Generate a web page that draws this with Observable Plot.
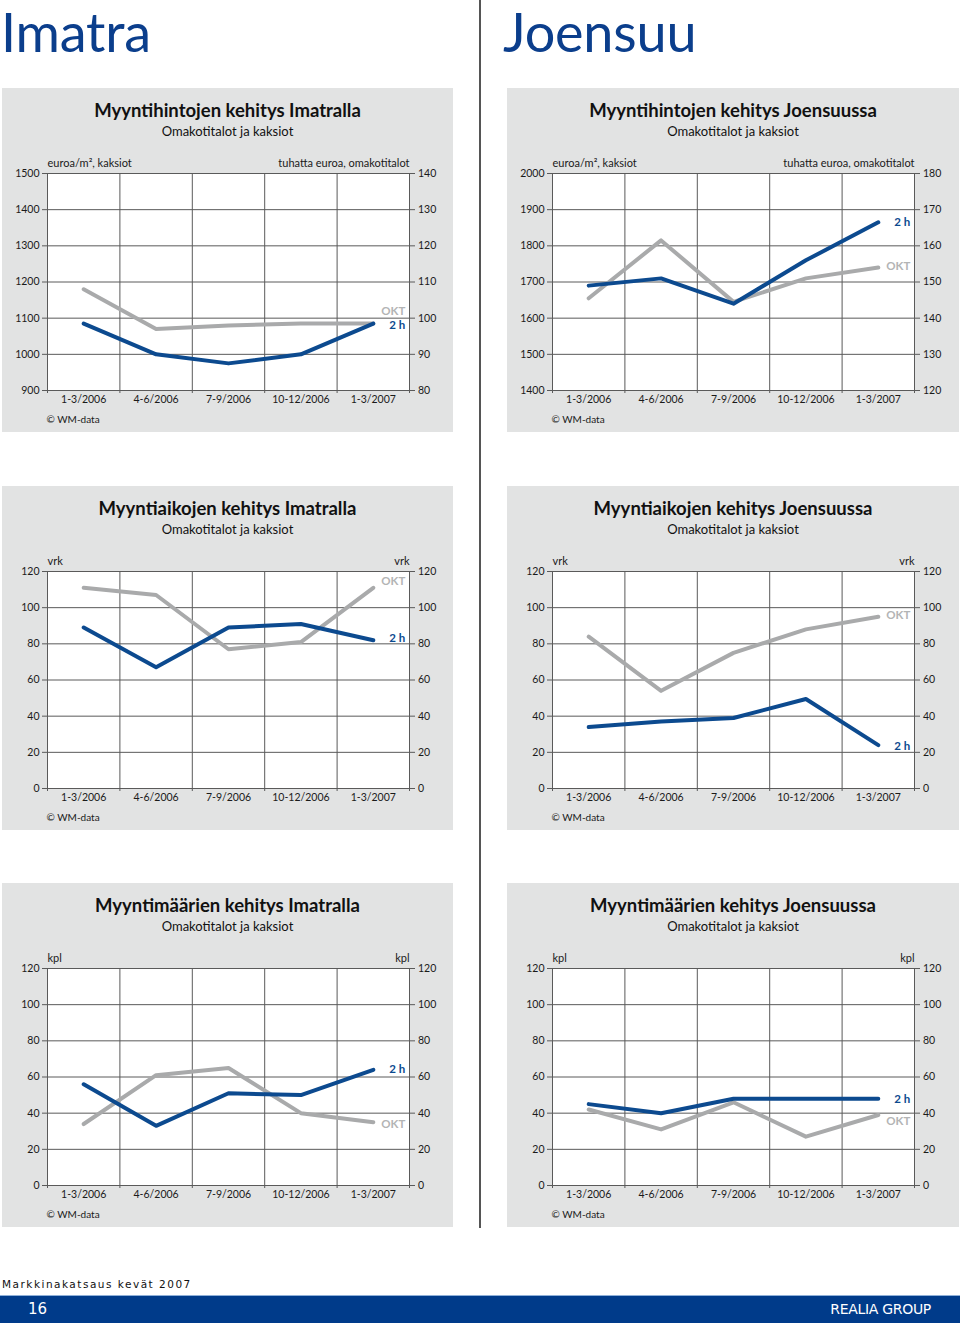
<!DOCTYPE html>
<html><head><meta charset="utf-8">
<script src="https://cdn.jsdelivr.net/npm/d3@7"></script>
<script src="https://cdn.jsdelivr.net/npm/@observablehq/plot@0.6"></script>
<style>
html,body{margin:0;padding:0;background:#fff}
#page{position:relative;width:960px;height:1327px;overflow:hidden;font-family:Lato,"Open Sans",sans-serif;color:#1a1a1a}
.abs{position:absolute}
.panel{position:absolute;background:#e2e3e3}
.city{position:absolute;font-family:Lato,sans-serif;font-size:54px;line-height:1.2;color:#0b3e8c;letter-spacing:-0.2px;white-space:nowrap}
.ptitle{position:absolute;text-align:center;font-weight:bold;font-size:18.5px;line-height:18.5px;color:#111}
.psub{position:absolute;text-align:center;font-size:13px;line-height:13px;color:#111}
.chart{position:absolute}
</style></head>
<body><div id="page"></div>
<script>
// ---------- data ----------
const quarters = ["1-3/2006", "4-6/2006", "7-9/2006", "10-12/2006", "1-3/2007"];

// Myyntihinnat (left axis: euroa/m², kaksiot; right axis: tuhatta euroa, omakotitalot)
const imatraPrice2h = [1085, 1000, 975, 1000, 1085];
const imatraPriceOKT = [108, 97, 98, 98.5, 98.5];
const joensuuPrice2h = [1690, 1710, 1640, 1760, 1865];
const joensuuPriceOKT = [145.5, 161.5, 144.5, 151, 154];

// Myyntiajat (vrk)
const imatraTime2h = [89, 67, 89, 91, 82];
const imatraTimeOKT = [111, 107, 77, 81, 111];
const joensuuTime2h = [34, 37, 39, 49.5, 24];
const joensuuTimeOKT = [84, 54, 75, 88, 95];

// Myyntimäärät (kpl)
const imatraCount2h = [56, 33, 51, 50, 64];
const imatraCountOKT = [34, 61, 65, 40, 35];
const joensuuCount2h = [45, 40, 48, 48, 48];
const joensuuCountOKT = [42, 31, 46, 27, 39];

// tick labels
const imatraPriceTicksLeft = [900, 1000, 1100, 1200, 1300, 1400, 1500];
const imatraPriceTicksRight = [80, 90, 100, 110, 120, 130, 140];
const joensuuPriceTicksLeft = [1400, 1500, 1600, 1700, 1800, 1900, 2000];
const joensuuPriceTicksRight = [120, 130, 140, 150, 160, 170, 180];
const ticks0to120 = [0, 20, 40, 60, 80, 100, 120];

const cities = ["Imatra", "Joensuu"];
const titles = [
  ["Myyntihintojen kehitys Imatralla", "Myyntihintojen kehitys Joensuussa"],
  ["Myyntiaikojen kehitys Imatralla", "Myyntiaikojen kehitys Joensuussa"],
  ["Myyntimäärien kehitys Imatralla", "Myyntimäärien kehitys Joensuussa"]
];
const subtitle = "Omakotitalot ja kaksiot";
const seriesNames = ["2 h", "OKT"];
const source = "© WM-data";

// ---------- styles ----------
const BLUE = "#0c4a8f", GREY = "#a9aaab", GREYLAB = "#b3b4b5", GRID = "#5a5a5a", TXT = "#1a1a1a";

function chart(cfg) {
  const L = cfg.leftTicks, R = cfg.rightTicks;
  const lmin = L[0], lmax = L[L.length - 1], rmin = R[0], rmax = R[R.length - 1];
  const toLeft = v => lmin + (v - rmin) * (lmax - lmin) / (rmax - rmin);
  const rows2h = quarters.map((q, i) => ({q, i, v: cfg.s2h[i]}));
  const rowsOKT = quarters.map((q, i) => ({q, i, v: toLeft(cfg.sOKT[i])}));
  const xc = d => d.i + 0.5;
  const bounds = d3.range(quarters.length + 1);
  const centers = quarters.map((q, i) => i + 0.5);
  const last = quarters.length - 1;
  return Plot.plot({
    width: 452, height: 287,
    marginLeft: 45, marginRight: 45, marginTop: 30, marginBottom: 40,
    style: {background: "transparent", fontFamily: "Lato, sans-serif", fontSize: "10.5px", color: TXT, overflow: "visible"},
    x: {type: "linear", domain: [0, quarters.length]},
    y: {domain: [lmin, lmax]},
    marks: [
      Plot.frame({fill: "#ffffff", stroke: null}),
      Plot.ruleY(L, {stroke: GRID, strokeWidth: 1}),
      Plot.ruleX(bounds, {stroke: GRID, strokeWidth: 1}),
      Plot.axisY({anchor: "left", ticks: L, tickSize: 5, tickPadding: 3, label: null, stroke: GRID, fill: TXT,
        tickFormat: d => String(d)}),
      Plot.axisY({anchor: "right", ticks: L, tickSize: 5, tickPadding: 3.5, label: null, stroke: GRID, fill: TXT,
        tickFormat: d => String(R[L.indexOf(d)])}),
      Plot.axisX({ticks: bounds, tickSize: 3, tickFormat: () => "", label: null, stroke: GRID}),
      Plot.axisX({ticks: centers, tickSize: 0, tickPadding: 5, label: null, fill: TXT,
        tickFormat: d => quarters[Math.floor(d)]}),
      Plot.line(rowsOKT, {x: xc, y: "v", stroke: GREY, strokeWidth: 4, strokeLinejoin: "round", strokeLinecap: "round"}),
      Plot.line(rows2h, {x: xc, y: "v", stroke: BLUE, strokeWidth: 4, strokeLinejoin: "round", strokeLinecap: "round"}),
      Plot.text([rowsOKT[last]], {x: xc, y: "v", text: () => seriesNames[1], textAnchor: "end", dx: 32, dy: cfg.dyOKT,
        fill: GREYLAB, fontWeight: "bold", fontSize: 11.5}),
      Plot.text([rows2h[last]], {x: xc, y: "v", text: () => seriesNames[0], textAnchor: "end", dx: 32, dy: cfg.dy2h,
        fill: BLUE, fontWeight: "bold", fontSize: 11.5}),
      Plot.text([cfg.unitLeft], {frameAnchor: "top-left", textAnchor: "start", lineAnchor: "middle", dy: -10, fill: TXT, fontSize: 11}),
      Plot.text([cfg.unitRight], {frameAnchor: "top-right", textAnchor: "end", lineAnchor: "middle", dy: -10, fill: TXT, fontSize: 11}),
      Plot.text([source], {frameAnchor: "bottom-left", textAnchor: "start", lineAnchor: "middle", dx: -1, dy: 29, fontSize: 10, fill: TXT})
    ]
  });
}

const page = document.getElementById("page");
function el(cls, css, text) {
  const d = document.createElement("div");
  d.className = cls;
  Object.assign(d.style, css);
  if (text != null) d.textContent = text;
  page.appendChild(d);
  return d;
}

// headings
el("city", {left: "1px", top: "0px"}, cities[0]);
el("city", {left: "503px", top: "0px"}, cities[1]);

// divider
el("abs", {left: "479px", top: "0px", width: "2px", height: "1228px", background: "#555"});

const panelX = [2, 507], panelW = [451, 452];
const panelY = [88, 486, 883], panelH = 344;
const plotLeft = [2, 507];

const configs = [
  [
    {leftTicks: imatraPriceTicksLeft, rightTicks: imatraPriceTicksRight, s2h: imatraPrice2h, sOKT: imatraPriceOKT,
     unitLeft: "euroa/m², kaksiot", unitRight: "tuhatta euroa, omakotitalot", dy2h: 2, dyOKT: -12},
    {leftTicks: joensuuPriceTicksLeft, rightTicks: joensuuPriceTicksRight, s2h: joensuuPrice2h, sOKT: joensuuPriceOKT,
     unitLeft: "euroa/m², kaksiot", unitRight: "tuhatta euroa, omakotitalot", dy2h: 0, dyOKT: -1}
  ],
  [
    {leftTicks: ticks0to120, rightTicks: ticks0to120, s2h: imatraTime2h, sOKT: imatraTimeOKT,
     unitLeft: "vrk", unitRight: "vrk", dy2h: -2, dyOKT: -6},
    {leftTicks: ticks0to120, rightTicks: ticks0to120, s2h: joensuuTime2h, sOKT: joensuuTimeOKT,
     unitLeft: "vrk", unitRight: "vrk", dy2h: 1, dyOKT: -1}
  ],
  [
    {leftTicks: ticks0to120, rightTicks: ticks0to120, s2h: imatraCount2h, sOKT: imatraCountOKT,
     unitLeft: "kpl", unitRight: "kpl", dy2h: 0, dyOKT: 2},
    {leftTicks: ticks0to120, rightTicks: ticks0to120, s2h: joensuuCount2h, sOKT: joensuuCountOKT,
     unitLeft: "kpl", unitRight: "kpl", dy2h: 1, dyOKT: 6}
  ]
];

for (let r = 0; r < 3; r++) {
  for (let c = 0; c < 2; c++) {
    const x = panelX[c], y = panelY[r], w = panelW[c];
    el("panel", {left: x + "px", top: y + "px", width: w + "px", height: panelH + "px"});
    el("ptitle", {left: x + "px", top: (y + 13) + "px", width: w + "px"}, titles[r][c]);
    el("psub", {left: x + "px", top: (y + 37) + "px", width: w + "px"}, subtitle);
    const holder = el("chart", {left: plotLeft[c] + "px", top: (y + 55) + "px"});
    holder.appendChild(chart(configs[r][c]));
  }
}

// footer
el("abs", {left: "2px", top: "1278px", fontFamily: "'DejaVu Sans', sans-serif", fontSize: "10.5px", letterSpacing: "1.5px", color: "#111", whiteSpace: "nowrap"}, "Markkinakatsaus kevät 2007");
el("abs", {left: "0px", top: "1295px", width: "960px", height: "1px", background: "#8fb0d8"});
el("abs", {left: "0px", top: "1296px", width: "960px", height: "27px", background: "#003b8a"});
el("abs", {left: "28px", top: "1301px", fontFamily: "'DejaVu Sans', sans-serif", fontSize: "15px", lineHeight: "17px", color: "#fff"}, "16");
el("abs", {right: "29px", top: "1301px", fontFamily: "'DejaVu Sans', sans-serif", fontSize: "14px", lineHeight: "17px", color: "#fff", letterSpacing: "-0.3px"}, "REALIA GROUP");
</script>
</body></html>
